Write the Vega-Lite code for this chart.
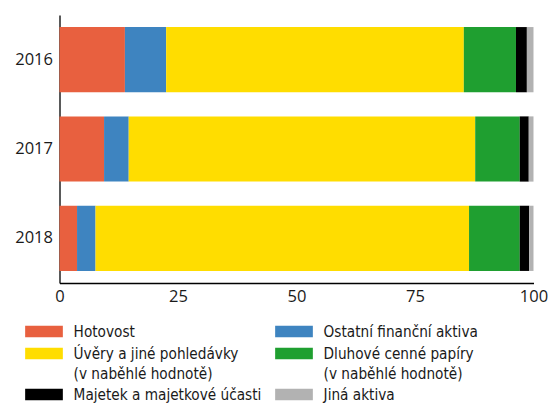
{
  "$schema": "https://vega.github.io/schema/vega-lite/v6.json",
  "width": 474,
  "height": 268,
  "autosize": {"type": "none"},
  "padding": {"left": 59.5, "top": 15, "right": 15.5, "bottom": 121},
  "background": "white",
  "config": {
    "view": {"stroke": null},
    "axis": {"grid": false, "ticks": false, "domainColor": "#000000", "domainWidth": 1.3, "labelFont": "Open Sans", "labelFontSize": 16.5, "labelColor": "#1a1a1a", "title": null},
    "legend": {"labelFont": "DejaVu Sans Condensed, Roboto", "labelFontSize": 15.2, "labelColor": "#1a1a1a"}
  },
  "data": {
    "values": [
      {"rok": "2016", "kategorie": "Hotovost", "poradi": 1, "hodnota": 13.8},
      {"rok": "2016", "kategorie": "Ostatní finanční aktiva", "poradi": 2, "hodnota": 8.7},
      {"rok": "2016", "kategorie": "Úvěry a jiné pohledávky|(v naběhlé hodnotě)", "poradi": 3, "hodnota": 62.8},
      {"rok": "2016", "kategorie": "Dluhové cenné papíry|(v naběhlé hodnotě)", "poradi": 4, "hodnota": 11.0},
      {"rok": "2016", "kategorie": "Majetek a majetkové účasti", "poradi": 5, "hodnota": 2.3},
      {"rok": "2016", "kategorie": "Jiná aktiva", "poradi": 6, "hodnota": 1.4},
      {"rok": "2017", "kategorie": "Hotovost", "poradi": 1, "hodnota": 9.4},
      {"rok": "2017", "kategorie": "Ostatní finanční aktiva", "poradi": 2, "hodnota": 5.2},
      {"rok": "2017", "kategorie": "Úvěry a jiné pohledávky|(v naběhlé hodnotě)", "poradi": 3, "hodnota": 73.1},
      {"rok": "2017", "kategorie": "Dluhové cenné papíry|(v naběhlé hodnotě)", "poradi": 4, "hodnota": 9.4},
      {"rok": "2017", "kategorie": "Majetek a majetkové účasti", "poradi": 5, "hodnota": 1.9},
      {"rok": "2017", "kategorie": "Jiná aktiva", "poradi": 6, "hodnota": 1.0},
      {"rok": "2018", "kategorie": "Hotovost", "poradi": 1, "hodnota": 3.7},
      {"rok": "2018", "kategorie": "Ostatní finanční aktiva", "poradi": 2, "hodnota": 3.9},
      {"rok": "2018", "kategorie": "Úvěry a jiné pohledávky|(v naběhlé hodnotě)", "poradi": 3, "hodnota": 78.8},
      {"rok": "2018", "kategorie": "Dluhové cenné papíry|(v naběhlé hodnotě)", "poradi": 4, "hodnota": 10.7},
      {"rok": "2018", "kategorie": "Majetek a majetkové účasti", "poradi": 5, "hodnota": 2.0},
      {"rok": "2018", "kategorie": "Jiná aktiva", "poradi": 6, "hodnota": 0.9}
    ]
  },
  "mark": {"type": "bar"},
  "encoding": {
    "y": {
      "field": "rok", "type": "nominal",
      "scale": {"paddingInner": 0.27, "paddingOuter": 0.135},
      "axis": {"labelPadding": 7}
    },
    "x": {
      "field": "hodnota", "type": "quantitative", "stack": "zero",
      "scale": {"domain": [0, 100], "nice": false},
      "axis": {"values": [0, 25, 50, 75, 100], "labelPadding": 5, "labelFlush": false}
    },
    "order": {"field": "poradi", "type": "quantitative"},
    "color": {
      "field": "kategorie", "type": "nominal",
      "scale": {
        "domain": ["Hotovost", "Ostatní finanční aktiva", "Úvěry a jiné pohledávky|(v naběhlé hodnotě)", "Dluhové cenné papíry|(v naběhlé hodnotě)", "Majetek a majetkové účasti", "Jiná aktiva"],
        "range": ["#E8603F", "#3E84C0", "#FFDD00", "#1F9F30", "#000000", "#B2B2B2"]
      },
      "legend": {
        "title": null,
        "orient": "none",
        "direction": "horizontal",
        "legendX": -34.5,
        "legendY": 306.5,
        "columns": 2,
        "columnPadding": 13,
        "rowPadding": 2,
        "symbolType": "M-1,-0.31L1,-0.31L1,0.31L-1,0.31Z",
        "symbolSize": 1421,
        "symbolStrokeWidth": 0,
        "symbolOpacity": 1,
        "clipHeight": 20,
        "labelOffset": 10.6,
        "labelLimit": 300,
        "labelExpr": "split(datum.label, '|')",
        "labelBaseline": "middle",
        "encode": {"labels": {"update": {"lineHeight": {"value": 20}}}}
      }
    }
  }
}
